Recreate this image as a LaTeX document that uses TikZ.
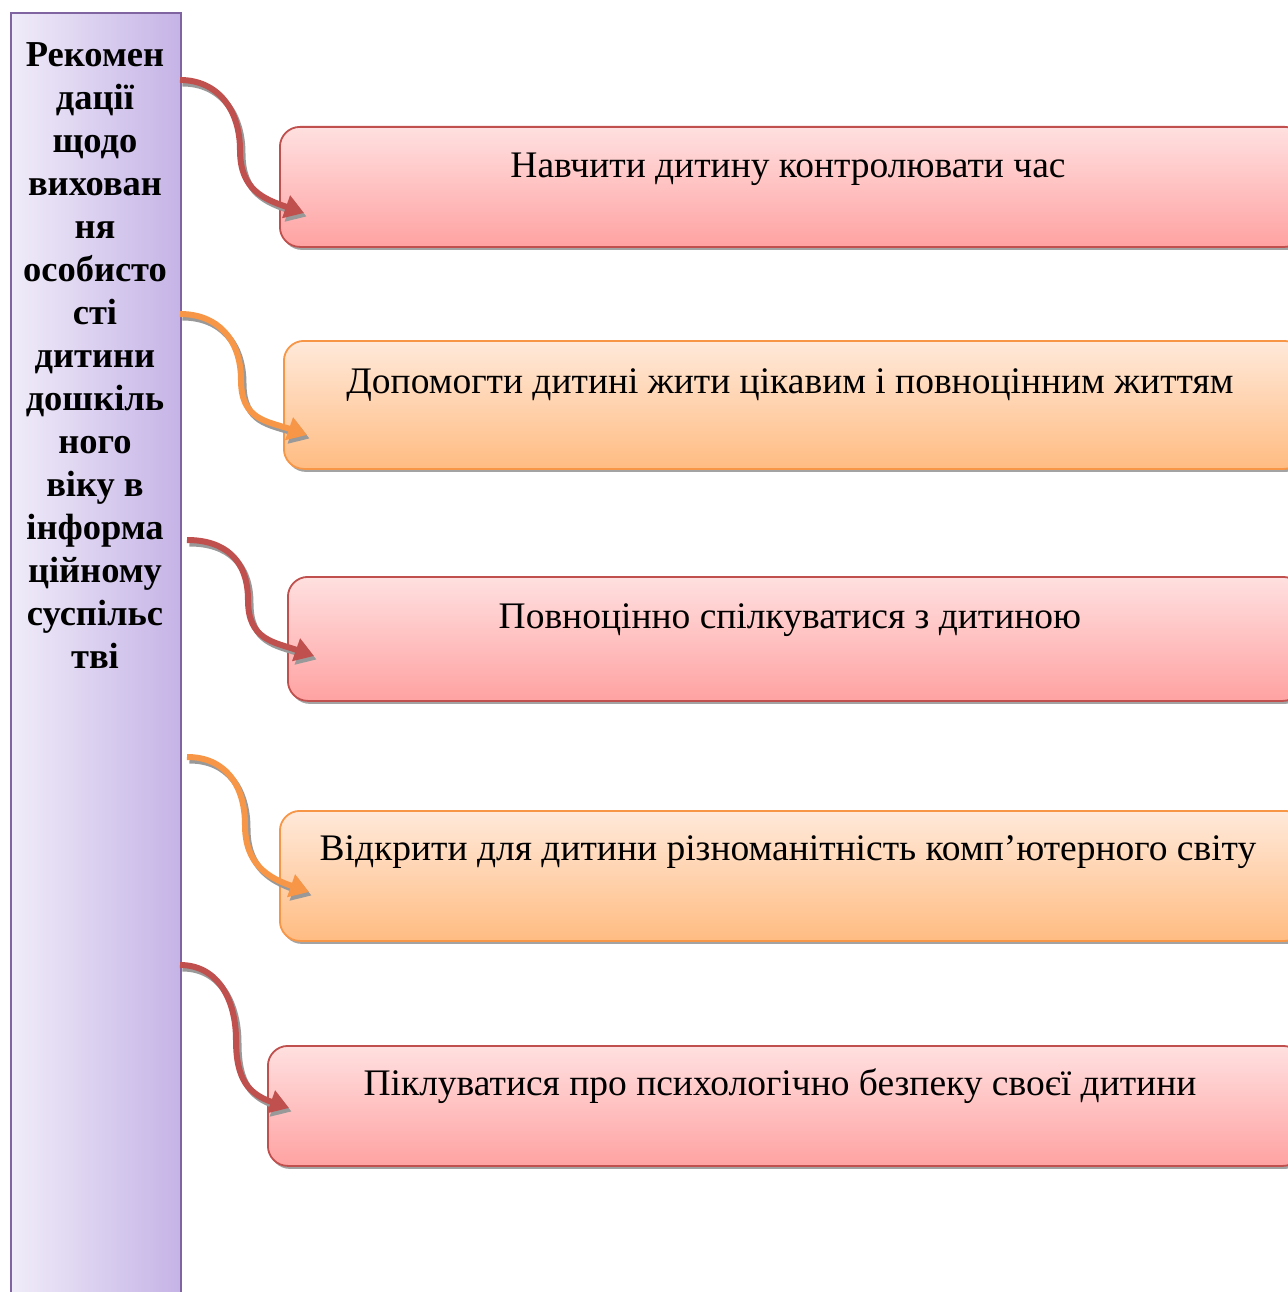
\documentclass[tikz,border=0pt]{standalone}
\usepackage{fontspec}
\setmainfont{Liberation Serif}
\usetikzlibrary{arrows.meta,shadows,calc}
\definecolor{redB}{HTML}{C0504D}
\definecolor{redT}{HTML}{FFE0E0}
\definecolor{redD}{HTML}{FFA2A2}
\definecolor{orB}{HTML}{F79646}
\definecolor{orT}{HTML}{FFE9DA}
\definecolor{orD}{HTML}{FFBC82}
\definecolor{vioB}{HTML}{8064A2}
\definecolor{vioL}{HTML}{F0ECF9}
\definecolor{vioR}{HTML}{C5B3E6}
\tikzset{
  itembox/.style={rounded corners=20pt, line width=1.8pt, anchor=north west, inner sep=0pt,
    drop shadow={shadow xshift=2pt, shadow yshift=-3pt, fill=black!45, opacity=0.8}},
  redbox/.style={itembox, draw=redB, top color=redT, bottom color=redD},
  orbox/.style={itembox, draw=orB, top color=orT, bottom color=orD},
  itemtext/.style={font=\fontsize{37.5}{44}\selectfont, inner sep=0pt, anchor=base},
  conn/.style={line width=6pt, -{Triangle[length=19pt,width=23pt]}},
  connshadow/.style={conn, draw=black!40, transform canvas={xshift=2.5pt,yshift=-3.5pt}},
}
\begin{document}
\begin{tikzpicture}[x=1pt,y=-1pt]
\useasboundingbox (0,0) rectangle (1287,1292);
% left bar
\node[draw=vioB, line width=1.8pt, left color=vioL, right color=vioR, anchor=north west,
      minimum width=170pt, minimum height=1300pt, inner sep=0pt] (bar) at (10,12) {};
\node[font=\bfseries\fontsize{36.5}{43}\selectfont, align=center, anchor=north, inner sep=0pt] (bartext) at (95,42.5)
 {Рекомен\\дації\\щодо\\вихован\\ня\\особисто\\сті\\дитини\\дошкіль\\ного\\віку в\\інформа\\ційному\\суспільс\\тві};
% boxes
\node[redbox, minimum width=1025pt, minimum height=120pt] (b1) at (279,126) {};
\node[orbox, minimum width=1020pt, minimum height=128pt] (b2) at (283,340) {};
\node[redbox, minimum width=1015pt, minimum height=124pt] (b3) at (287,576) {};
\node[orbox, minimum width=1025pt, minimum height=130pt] (b4) at (279,810) {};
\node[redbox, minimum width=1035pt, minimum height=120pt] (b5) at (267,1045) {};
\node[itemtext] (t1) at (788,178) {Навчити дитину контролювати час};
\node[itemtext] (t2) at (790,393) {Допомогти дитині жити цікавим і повноцінним життям};
\node[itemtext] (t3) at (790,628) {Повноцінно спілкуватися з дитиною};
\node[itemtext] (t4) at (788,860) {Відкрити для дитини різноманітність комп’ютерного світу};
\node[itemtext] (t5) at (780,1095) {Піклуватися про психологічно безпеку своєї дитини};
% connector endpoints
\coordinate (s1) at (180,80);   \coordinate (m1) at (240,150);  \coordinate (e1) at (304,213);
\coordinate (s2) at (180,314);  \coordinate (m2) at (241,380);  \coordinate (e2) at (307,435);
\coordinate (s3) at (187,540);  \coordinate (m3) at (248,600);  \coordinate (e3) at (314,656);
\coordinate (s4) at (187,757);  \coordinate (m4) at (245,825);  \coordinate (e4) at (309,892);
\coordinate (s5) at (180,965);  \coordinate (m5) at (236,1040); \coordinate (e5) at (289,1108);
\foreach \i/\c in {1/redB,2/orB,3/redB,4/orB,5/redB}{
  \draw[connshadow] (s\i) .. controls ($(s\i)+(38,0)$) and ($(m\i)+(0,-40)$) .. (m\i)
        .. controls ($(m\i)+(0,40)$) and ($(e\i)+(-40,-14)$) .. (e\i);
  \draw[conn, draw=\c] (s\i) .. controls ($(s\i)+(38,0)$) and ($(m\i)+(0,-40)$) .. (m\i)
        .. controls ($(m\i)+(0,40)$) and ($(e\i)+(-40,-14)$) .. (e\i);
}
\end{tikzpicture}
\end{document}
